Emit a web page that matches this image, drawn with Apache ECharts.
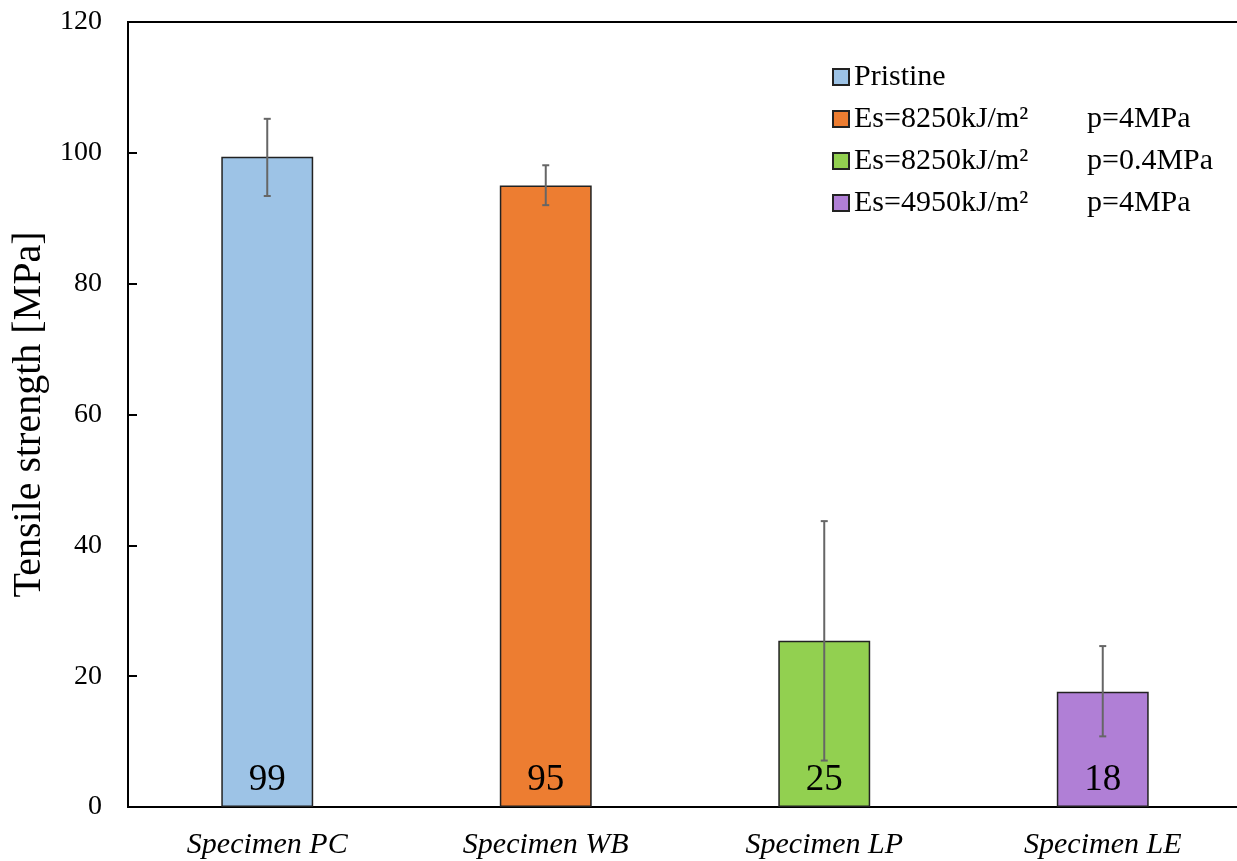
<!DOCTYPE html>
<html>
<head>
<meta charset="utf-8">
<title>Tensile strength</title>
<script src="https://cdn.jsdelivr.net/npm/echarts@6/dist/echarts.min.js"></script>
<style>
    html, body { margin: 0; padding: 0; background: #fff; }
    #chart { width: 1237px; height: 861px; }
</style>
</head>
<body>
<div id="chart"></div>
<script>
var categories = ['Specimen PC', 'Specimen WB', 'Specimen LP', 'Specimen LE'];
var seriesNames = ['Pristine', 'Es=8250kJ/m²|p=4MPa', 'Es=8250kJ/m²|p=0.4MPa', 'Es=4950kJ/m²|p=4MPa'];
var strength = [99.4, 95.0, 25.4, 17.6];
var errLow = [93.4, 92.0, 7.1, 10.8];
var errHigh = [105.2, 98.1, 43.7, 24.6];
var colors = ['#9dc3e6', '#ed7d31', '#92d050', '#b07fd6'];
var yTicks = [0, 20, 40, 60, 80, 100, 120];

var serif = '"Liberation Serif", "DejaVu Serif", serif';

var myChart = echarts.init(document.getElementById('chart'));

var barSeries = seriesNames.map(function (name, i) {
    return {
        name: name,
        type: 'bar',
        barWidth: '33%',
        barGap: '-100%',
        itemStyle: {
            color: colors[i],
            borderColor: '#222',
            borderWidth: 1.5
        },
        label: {
            show: true,
            position: 'insideBottom',
            distance: 8,
            color: '#000',
            fontFamily: serif,
            fontSize: 37,
            formatter: function (p) {
                return Math.round(p.value);
            }
        },
        data: categories.map(function (c, j) {
            return j === i ? strength[j] : '-';
        }),
        z: 2
    };
});

var errorSeries = {
    type: 'custom',
    name: 'error',
    renderItem: function (params, api) {
        var x = api.value(0);
        var lo = api.coord([x, api.value(1)]);
        var hi = api.coord([x, api.value(2)]);
        var cap = 3.5;
        var st = { stroke: '#666', lineWidth: 2 };
        return {
            type: 'group',
            children: [
                { type: 'line', shape: { x1: lo[0], y1: lo[1], x2: hi[0], y2: hi[1] }, style: st },
                { type: 'line', shape: { x1: hi[0] - cap, y1: hi[1], x2: hi[0] + cap, y2: hi[1] }, style: st },
                { type: 'line', shape: { x1: lo[0] - cap, y1: lo[1], x2: lo[0] + cap, y2: lo[1] }, style: st }
            ]
        };
    },
    data: categories.map(function (c, j) {
        return [j, errLow[j], errHigh[j]];
    }),
    z: 5,
    silent: true
};

var option = {
    animation: false,
    backgroundColor: '#fff',
    textStyle: { fontFamily: serif },
    grid: {
        left: 128,
        right: -5,
        top: 22,
        bottom: 54,
        outerBoundsMode: 'none',
        containLabel: false,
        show: true,
        borderColor: '#000',
        borderWidth: 2
    },
    legend: {
        data: seriesNames,
        orient: 'vertical',
        left: 827,
        top: 57,
        itemWidth: 16,
        itemHeight: 16,
        itemGap: 12,
        icon: 'rect',
        textStyle: {
            fontFamily: serif,
            fontSize: 30,
            color: '#000',
            lineHeight: 30,
            rich: {
                a: { fontFamily: serif, fontSize: 30, color: '#000', width: 233 },
                b: { fontFamily: serif, fontSize: 30, color: '#000' }
            }
        },
        formatter: function (name) {
            var parts = name.split('|');
            if (parts.length < 2) return name;
            return '{a|' + parts[0] + '}{b|' + parts[1] + '}';
        }
    },
    xAxis: {
        type: 'category',
        data: categories,
        axisLine: { lineStyle: { color: '#000', width: 2 } },
        axisTick: { show: false },
        axisLabel: {
            color: '#000',
            fontFamily: serif,
            fontStyle: 'italic',
            fontSize: 30,
            margin: 23,
            interval: 0
        },
        splitLine: { show: false }
    },
    yAxis: {
        type: 'value',
        min: yTicks[0],
        max: yTicks[yTicks.length - 1],
        interval: 20,
        name: 'Tensile strength [MPa]',
        nameLocation: 'middle',
        nameGap: 74,
        nameTextStyle: { color: '#000', fontFamily: serif, fontSize: 40 },
        axisLine: { show: true, lineStyle: { color: '#000', width: 2 } },
        axisTick: { show: true, inside: true, length: 9, lineStyle: { color: '#000', width: 2 } },
        axisLabel: { color: '#000', fontFamily: serif, fontSize: 28, margin: 26 },
        splitLine: { show: false }
    },
    series: barSeries.concat([errorSeries])
};

myChart.setOption(option);
window.addEventListener('resize', function () {
    myChart.resize();
});
</script>
</body>
</html>
